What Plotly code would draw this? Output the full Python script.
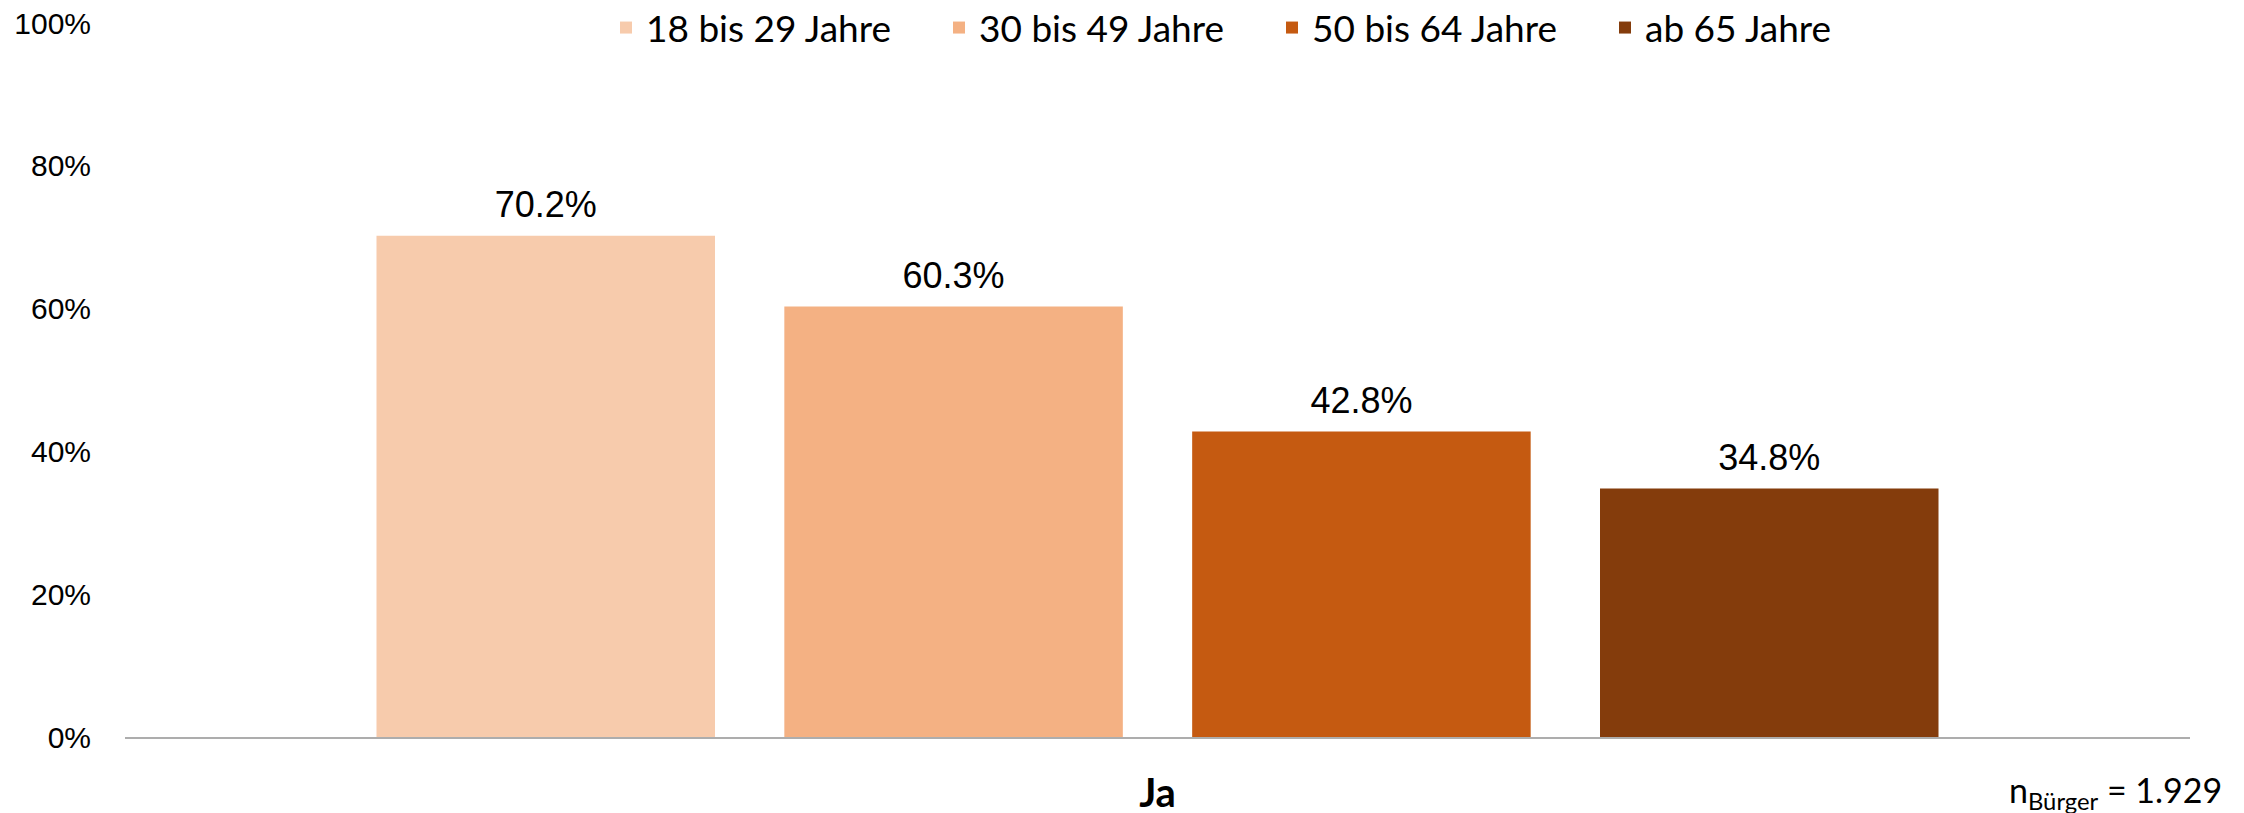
import plotly.graph_objects as go

categories = ["Ja"]
series_names = ["18 bis 29 Jahre", "30 bis 49 Jahre", "50 bis 64 Jahre", "ab 65 Jahre"]
series_values = [[0.702], [0.603], [0.428], [0.348]]
series_colors = ["#F7CBAC", "#F4B183", "#C55A11", "#843C0C"]
y_tick_values = [0, 0.2, 0.4, 0.6, 0.8, 1.0]
y_tick_labels = ["0%", "20%", "40%", "60%", "80%", "100%"]
note_text = "n<sub>Bürger</sub> = 1.929"

W, H = 2244, 813
ML, MR, MT, MB = 125, 54, 23, 76
BARGAP = 0.21

fig = go.Figure()
for i, (name, vals, col) in enumerate(zip(series_names, series_values, series_colors)):
    fig.add_trace(go.Bar(
        x=categories, y=vals, name=name, marker=dict(color=col, line=dict(width=0)),
        offsetgroup=str(i), hoverinfo="skip",
    ))
for i, (name, vals) in enumerate(zip(series_names, series_values)):
    fig.add_trace(go.Scatter(
        x=categories, y=vals, mode="markers+text",
        text=[f"{v*100:.1f}%" for v in vals], textposition="top center",
        textfont=dict(family="Liberation Sans", size=36, color="#000000"),
        marker=dict(size=14, color="rgba(0,0,0,0)"),
        offsetgroup=str(i), showlegend=False, hoverinfo="skip", cliponaxis=False,
    ))

PW = W - ML - MR
PH = H - MT - MB

fig.update_layout(
    width=W, height=H,
    margin=dict(l=ML, r=MR, t=MT, b=MB, autoexpand=False),
    paper_bgcolor="white", plot_bgcolor="white",
    barmode="group", bargap=BARGAP, bargroupgap=0.17,
    scattermode="group", scattergap=BARGAP,
    showlegend=True,
    legend=dict(
        orientation="h", xref="container", yref="container",
        x=606 / W, y=1 - 28 / H, xanchor="left", yanchor="middle",
        font=dict(family="Lato", size=37, color="#000000"),
        entrywidth=288, entrywidthmode="pixels",
        bgcolor="rgba(0,0,0,0)", traceorder="normal",
    ),
    xaxis=dict(
        type="category", showline=True, linecolor="#ADADAD", linewidth=2,
        showgrid=False, zeroline=False, ticks="", automargin=False,
        tickfont=dict(family="Lato", size=40, color="#000000", weight="bold"),
        ticklabelstandoff=20,
    ),
    yaxis=dict(
        range=[0, 1], tickvals=y_tick_values, ticktext=y_tick_labels,
        showgrid=False, zeroline=False, showline=False, ticks="", automargin=False,
        tickfont=dict(family="Liberation Sans", size=30, color="#000000"),
        ticklabelstandoff=33, ticklabeloverflow="allow",
    ),
    annotations=[dict(
        text=note_text, xref="paper", yref="paper",
        x=(2224 - ML) / PW, y=-55 / PH,
        xanchor="right", yanchor="middle", showarrow=False,
        font=dict(family="Lato", size=34, color="#000000"),
    )],
)

# remove the browser's default 8px body margin so the figure fills the window exactly
fig.write_html("out.html", config={"displayModeBar": False},
               post_script="document.body.style.margin='0';")
